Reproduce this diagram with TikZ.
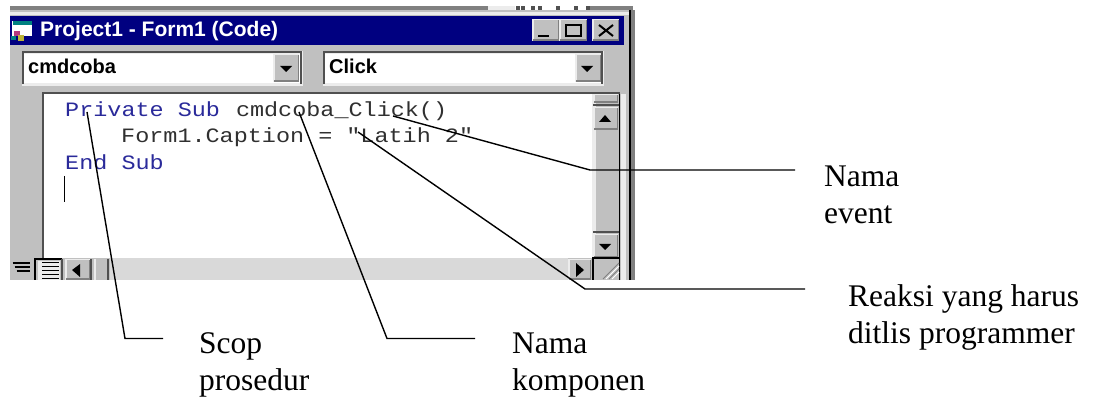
\documentclass[tikz,border=0pt]{standalone}
\usepackage{fontspec}
\setmainfont{Liberation Serif}
\setsansfont{Liberation Sans}
\setmonofont[FakeStretch=1.15]{Liberation Mono}
\definecolor{wingray}{HTML}{C0C0C0}
\definecolor{winlight}{HTML}{ECECEC}
\definecolor{winblue}{HTML}{000080}
\definecolor{windark}{HTML}{505050}
\definecolor{winmid}{HTML}{808080}
\definecolor{codeblue}{HTML}{2A2A9A}
\definecolor{codegray}{HTML}{303030}
\newcommand{\winbtn}[5]{%
  \node[draw=none,fill=wingray,minimum width=#4-#2,minimum height=#5-#3,inner sep=0pt,anchor=north west] (#1) at (#2,#3) {};
  \draw[winlight,line width=1.5pt] (#2+.75,#5) -- (#2+.75,#3+.75) -- (#4,#3+.75);
  \draw[winmid,line width=1.5pt] (#2+1,#5-.75) -- (#4-.75,#5-.75) -- (#4-.75,#3+1);
}
\tikzset{
  x=1pt,y=-1pt,
  label text/.style={font=\rmfamily\fontsize{31.5}{37}\selectfont,align=left,anchor=north west,inner sep=0pt,text=black},
  code text/.style={font=\ttfamily\fontsize{20.4}{20.4}\selectfont,anchor=base west,inner sep=0pt},
  title text/.style={font=\sffamily\bfseries\fontsize{21}{21}\selectfont,text=white,anchor=base west,inner sep=0pt},
  combo text/.style={font=\sffamily\bfseries\fontsize{20}{20}\selectfont,text=black,anchor=base west,inner sep=0pt},
  leader/.style={draw=black,line width=1.4pt,line join=miter},
}
\begin{document}
\begin{tikzpicture}
\useasboundingbox (0,0) rectangle (1093,398);
\fill[white] (0,0) rectangle (1093,398);
% window
\fill[winmid] (10,6) rectangle (488,10);
\fill[winlight] (488,6) rectangle (515,10);
\fill[winmid] (590,6) rectangle (633,10);
\foreach \xx in {516,521,531,538,556,574,586}{\fill[windark] (\xx,6) rectangle (\xx+4,10);}
\fill[wingray] (10,10) rectangle (635,280);
\fill[winlight] (10,12) rectangle (630,15);
\fill[winmid] (631,10) rectangle (635,280);
\draw[black,line width=1.2pt] (630,10) -- (630,280);
\fill[winblue] (10,16) rectangle (624,45);
% title bar icon
\fill[white] (12,21) rectangle (32,36);
\fill[teal] (13,21) rectangle (32,25);
\fill[magenta!70!black] (14,31) rectangle (20,36);
\fill[yellow!70!black] (18,35) rectangle (24,41);
\fill[teal] (11,36) rectangle (16,40);
\node[title text] (title) at (40,37) {Project1 - Form1 (Code)};
\winbtn{minb}{532}{19}{559}{41}
\fill[black] (538,35) rectangle (549,37);
\winbtn{maxb}{559}{19}{587}{41}
\draw[black,line width=1.5pt] (566,25) rectangle (581,36);
\winbtn{closeb}{592}{19}{619}{41}
\draw[black,line width=2pt] (599,25) -- (613,36) (613,25) -- (599,36);
% combos
\fill[winlight] (22,51) rectangle (303,86);
\fill[white] (24,54) rectangle (300,83);
\draw[windark,line width=1.6pt] (23,84) -- (23,52) -- (301,52) -- (301,84);
\winbtn{cb1}{273}{54}{299}{82}
\fill[black] (280,66) -- (292,66) -- (286,72) -- cycle;
\node[combo text] (cmb1) at (28,74) {cmdcoba};
\fill[winlight] (323,51) rectangle (604,86);
\fill[white] (325,54) rectangle (601,83);
\draw[windark,line width=1.6pt] (324,84) -- (324,52) -- (602,52) -- (602,84);
\winbtn{cb2}{575}{54}{601}{82}
\fill[black] (581,66) -- (593,66) -- (587,72) -- cycle;
\node[combo text] (cmb2) at (329,74) {Click};
% code area
\fill[white] (43,93) rectangle (592,258);
\draw[windark,line width=2pt] (43,258) -- (43,93) -- (620,93);
% vertical scrollbar
\fill[wingray] (592,94) rectangle (620,258);
\fill[winlight] (592,94) rectangle (596,258);
\winbtn{top}{593}{94}{618}{103}
\draw[windark,line width=1.4pt] (593,105) -- (619,105);
\winbtn{up}{593}{107}{618}{130}
\fill[black] (599,122) -- (611,122) -- (605,115) -- cycle;
\draw[windark,line width=1.4pt] (593,232) -- (619,232);
\winbtn{down}{593}{234}{618}{258}
\fill[black] (599,244) -- (611,244) -- (605,250) -- cycle;
\draw[black,line width=1.3pt] (619.5,94) -- (619.5,280);
\fill[winlight] (621,94) rectangle (626,280);
% horizontal scrollbar
\fill[black!15] (110,258) rectangle (568,280);
\fill[wingray] (10,258) rectangle (110,280);
\fill[winlight] (38,261) rectangle (60,280);
\draw[black,line width=1.4pt] (35,280) -- (35,259) -- (62,259);
\draw[windark,line width=1.2pt] (62,259) -- (62,280);
\foreach \yy in {263,267,271,275,279}{\draw[black,line width=1pt] (42,\yy) -- (59,\yy);}
\foreach \yy in {263,267,271}{\draw[black,line width=1.2pt] (\yy/2-119,\yy) -- (30,\yy);}
\winbtn{lft}{65}{259}{90}{280}
\fill[black] (72,270) -- (80,264) -- (80,277) -- cycle;
\draw[windark,line width=1.4pt] (91,259) -- (91,280);
\draw[windark,line width=1.4pt] (108,259) -- (108,280);
\fill[winlight] (94,259) rectangle (96,280);
\winbtn{rgt}{568}{259}{591}{280}
\fill[black] (576,263) -- (584,270) -- (576,277) -- cycle;
\draw[black,line width=1.3pt] (593,280) -- (593,258) -- (620,258);
\draw[white,line width=1pt] (606,279) -- (619,266) (612,279) -- (619,272);
\draw[winmid,line width=1pt] (603,279) -- (619,263) (609,279) -- (619,269);
% code
\node[code text,text=codeblue] (c1a) at (65,117) {Private Sub};
\node[code text,text=codegray] (c1b) at (235.8,117) {cmdcoba\_Click()};
\node[code text,text=codegray] (c2) at (121,143) {Form1.Caption = "Latih 2"};
\node[code text,text=codeblue] (c3) at (65,170) {End Sub};
\draw[black,line width=1.2pt] (64.5,176) -- (64.5,202);
% labels
\node[label text] (lbl1) at (824,166) {Nama\\event};
\node[label text] (lbl2) at (848,284.8) {Reaksi yang harus\\ditlis programmer};
\node[label text] (lbl3) at (199,332.5) {Scop\\prosedur};
\node[label text] (lbl4) at (512,333) {Nama\\komponen};
% leaders
\coordinate (s0) at (87,112); \coordinate (s1) at (125,338.5); \coordinate (s2) at (163,338.5);
\coordinate (k0) at (299,112); \coordinate (k1) at (387,338.5); \coordinate (k2) at (475,338.5);
\coordinate (r0) at (358,132); \coordinate (r1) at (585,289); \coordinate (r2) at (805,289);
\coordinate (e0) at (393,116); \coordinate (e1) at (590,170); \coordinate (e2) at (795,170);
\draw[leader] (s0) -- (s1) -- (s2);
\draw[leader] (k0) -- (k1) -- (k2);
\draw[leader] (r0) -- (r1) -- (r2);
\draw[leader] (e0) -- (e1) -- (e2);
\end{tikzpicture}
\end{document}
